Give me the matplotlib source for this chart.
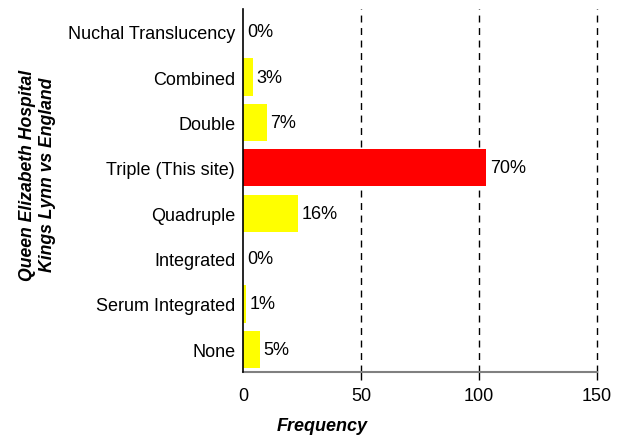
import matplotlib
matplotlib.use("Agg")
import matplotlib.pyplot as plt

categories = ["Nuchal Translucency", "Combined", "Double", "Triple (This site)",
              "Quadruple", "Integrated", "Serum Integrated", "None"]
frequencies = [0, 4, 10, 103, 23, 0, 1, 7]
percent_labels = ["0%", "3%", "7%", "70%", "16%", "0%", "1%", "5%"]
highlight = "Triple (This site)"
x_ticks = [0, 50, 100, 150]

plt.rcParams['font.family'] = ['Liberation Sans', 'DejaVu Sans']

fig = plt.figure(figsize=(6.26, 4.39), dpi=100)
ax_w = 597 - 243.5
ax = fig.add_axes([243.5/626, 1 - 373/439, ax_w/626, (373-10)/439])

colors = ["#FF0000" if c == highlight else "#FFFF00" for c in categories]
ypos = list(range(len(categories)))
ax.barh(ypos, frequencies, height=0.82, color=colors, zorder=3)
ax.set_ylim(len(categories) - 0.5, -0.5)
ax.set_xlim(0, 150)

for y, v, lab in zip(ypos, frequencies, percent_labels):
    ax.annotate(lab, xy=(v, y), xytext=(2.5, 0), textcoords="offset points",
                va="center", ha="left", fontsize=13, zorder=4)

ax.set_yticks(ypos)
ax.set_yticklabels(categories, fontsize=13)
ax.set_xticks(x_ticks)
ax.set_xticklabels([str(t) for t in x_ticks], fontsize=13)
ax.tick_params(axis="y", length=0, pad=6)
ax.tick_params(axis="x", length=6, width=1, color="black", pad=5, direction="out")
ax.xaxis.get_major_ticks()[0].tick1line.set_visible(False)

for t in x_ticks[1:]:
    ax.axvline(t, linestyle=(0, (5, 4)), color="black", linewidth=1, zorder=1, clip_on=False)
for s in ["top", "right"]:
    ax.spines[s].set_visible(False)
ax.spines["left"].set_color("black")
ax.spines["left"].set_linewidth(1.2)
ax.spines["bottom"].set_color("#808080")
ax.spines["bottom"].set_linewidth(1.5)
ax.spines["left"].set_zorder(5)

ax.set_xlabel("Frequency", fontsize=13, fontweight="bold", fontstyle="italic")
ax.xaxis.set_label_coords((322 - 243.5)/ax_w, -(427 - 373)/363)
ax.xaxis.label.set_va("center")
ax.set_ylabel("Queen Elizabeth Hospital\nKings Lynn vs England", fontsize=12.7,
              fontweight="bold", fontstyle="italic", linespacing=1.3)
ax.yaxis.set_label_coords(-187/ax_w, (373 - 175)/363)

fig.savefig("out.png", dpi=100)
